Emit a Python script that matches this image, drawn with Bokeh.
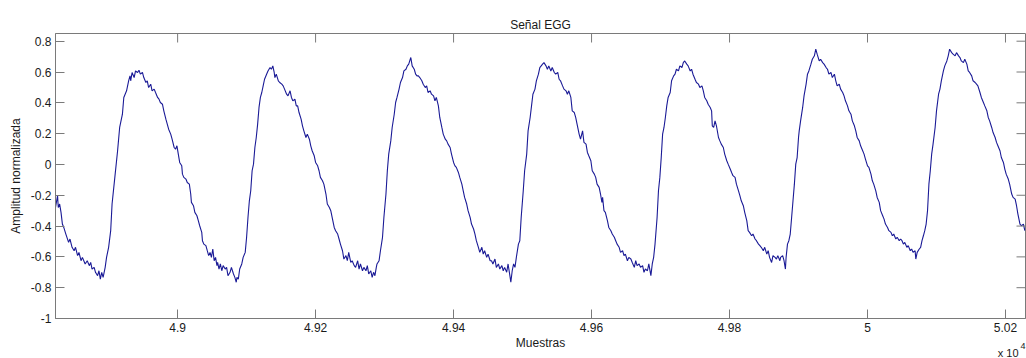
import math
from bokeh.plotting import figure
from bokeh.models import Range1d, FixedTicker, Label
from bokeh.embed import file_html
from bokeh.resources import INLINE

# EGG trace, sample index vs. normalised amplitude, split into consecutive stretches
seg1_n = [48823, 48826, 48827, 48829, 48831, 48833, 48835, 48838, 48842, 48844,
          48847, 48850, 48852, 48855, 48857, 48860, 48862, 48866, 48869, 48872,
          48874, 48876, 48879, 48881, 48884, 48886, 48888, 48890, 48892, 48895,
          48897, 48900, 48903, 48905, 48909, 48913, 48916, 48920, 48922, 48926,
          48929, 48931, 48932, 48934, 48937, 48939, 48942, 48944, 48946, 48949,
          48951, 48954, 48956, 48958, 48961, 48963, 48966, 48968, 48971, 48973,
          48975, 48978, 48980, 48983, 48985, 48987, 48990, 48992, 48995, 48997]
seg1_a = [-0.279, -0.203, -0.279, -0.257, -0.311, -0.387, -0.409, -0.452, -0.506, -0.484,
          -0.538, -0.560, -0.538, -0.592, -0.571, -0.625, -0.603, -0.646, -0.625, -0.657,
          -0.636, -0.679, -0.668, -0.700, -0.722, -0.690, -0.744, -0.700, -0.733, -0.668,
          -0.603, -0.538, -0.430, -0.257, -0.084, 0.089, 0.240, 0.326, 0.435, 0.478,
          0.543, 0.575, 0.543, 0.597, 0.564, 0.607, 0.597, 0.612, 0.586, 0.597,
          0.564, 0.532, 0.543, 0.499, 0.521, 0.478, 0.489, 0.467, 0.435, 0.424,
          0.402, 0.391, 0.348, 0.294, 0.262, 0.229, 0.197, 0.164, 0.110, 0.099]

seg2_n = [48999, 49001, 49003, 49006, 49007, 49009, 49012, 49014, 49017, 49019,
          49020, 49023, 49025, 49028, 49030, 49032, 49035, 49036, 49038, 49041,
          49043, 49045, 49047, 49049, 49051, 49053, 49055, 49057, 49058, 49060,
          49062, 49064, 49066, 49069, 49071, 49073, 49076, 49078, 49081, 49083,
          49085, 49086, 49088, 49090, 49093, 49095, 49098, 49100, 49102, 49104,
          49106, 49108, 49110, 49112, 49114, 49116, 49118, 49120, 49122, 49124,
          49126, 49129, 49131, 49134, 49136, 49138, 49140, 49141, 49143, 49146,
          49148, 49151, 49153, 49155, 49158, 49160, 49163, 49165, 49167, 49170,
          49172]
seg2_a = [0.121, 0.067, 0.013, -0.009, -0.063, -0.084, -0.095, -0.117, -0.128, -0.192,
          -0.246, -0.268, -0.311, -0.333, -0.365, -0.398, -0.441, -0.495, -0.517, -0.527,
          -0.560, -0.592, -0.571, -0.603, -0.549, -0.625, -0.603, -0.657, -0.636, -0.679,
          -0.646, -0.690, -0.657, -0.679, -0.668, -0.722, -0.700, -0.668, -0.711, -0.733,
          -0.765, -0.733, -0.744, -0.679, -0.646, -0.603, -0.571, -0.473, -0.344, -0.236,
          -0.171, -0.041, 0.002, 0.110, 0.175, 0.262, 0.370, 0.435, 0.467, 0.510,
          0.553, 0.586, 0.607, 0.629, 0.618, 0.640, 0.597, 0.564, 0.586, 0.543,
          0.532, 0.521, 0.510, 0.489, 0.456, 0.445, 0.478, 0.435, 0.413, 0.424,
          0.380]

seg3_n = [49174, 49176, 49179, 49181, 49183, 49186, 49188, 49191, 49193, 49195,
          49198, 49200, 49203, 49205, 49207, 49210, 49212, 49215, 49217, 49220,
          49222, 49224, 49227, 49229, 49232, 49234, 49236, 49239, 49241, 49244,
          49246, 49248, 49251, 49253, 49256, 49258, 49261, 49263, 49265, 49268,
          49270, 49273, 49275, 49277, 49280, 49282, 49284, 49286, 49288, 49289,
          49292, 49294, 49297, 49299, 49302, 49304, 49306, 49309, 49311, 49314,
          49316, 49318, 49321, 49323, 49326, 49328, 49331, 49333, 49335, 49338,
          49340, 49343, 49345, 49347]
seg3_a = [0.380, 0.337, 0.294, 0.251, 0.218, 0.175, 0.197, 0.164, 0.121, 0.089,
          0.056, 0.013, -0.009, -0.041, -0.084, -0.106, -0.128, -0.192, -0.257, -0.279,
          -0.300, -0.344, -0.409, -0.430, -0.452, -0.484, -0.517, -0.560, -0.614, -0.592,
          -0.625, -0.571, -0.636, -0.625, -0.657, -0.668, -0.625, -0.679, -0.646, -0.690,
          -0.668, -0.690, -0.657, -0.711, -0.690, -0.733, -0.700, -0.722, -0.668, -0.646,
          -0.625, -0.560, -0.473, -0.344, -0.192, -0.041, 0.067, 0.153, 0.240, 0.326,
          0.402, 0.435, 0.489, 0.532, 0.564, 0.607, 0.618, 0.640, 0.651, 0.694,
          0.640, 0.618, 0.586, 0.575]

seg4_n = [49349, 49351, 49354, 49356, 49359, 49361, 49363, 49366, 49368, 49371,
          49373, 49375, 49378, 49380, 49383, 49385, 49388, 49390, 49392, 49395,
          49397, 49400, 49402, 49404, 49407, 49409, 49412, 49414, 49416, 49419,
          49421, 49424, 49426, 49429, 49431, 49433, 49436, 49438, 49441, 49443,
          49445, 49448, 49450, 49453, 49455, 49457, 49460, 49462, 49465, 49467,
          49470, 49472, 49474, 49477, 49479, 49482, 49483, 49485, 49487, 49489,
          49491, 49494, 49496, 49498, 49501, 49503, 49506, 49508, 49511, 49513,
          49515, 49518, 49520, 49523, 49525]
seg4_a = [0.575, 0.564, 0.543, 0.521, 0.499, 0.510, 0.467, 0.478, 0.456, 0.445,
          0.413, 0.435, 0.380, 0.305, 0.240, 0.197, 0.164, 0.153, 0.132, 0.110,
          0.067, 0.013, -0.009, -0.019, -0.052, -0.084, -0.128, -0.171, -0.214, -0.257,
          -0.300, -0.344, -0.387, -0.419, -0.452, -0.495, -0.538, -0.571, -0.538, -0.582,
          -0.560, -0.603, -0.582, -0.625, -0.625, -0.646, -0.614, -0.668, -0.646, -0.679,
          -0.657, -0.690, -0.668, -0.700, -0.646, -0.733, -0.765, -0.690, -0.646, -0.668,
          -0.603, -0.517, -0.495, -0.344, -0.171, -0.041, 0.067, 0.218, 0.305, 0.380,
          0.456, 0.489, 0.543, 0.586, 0.629]

seg5_n = [49529, 49531, 49534, 49536, 49538, 49541, 49543, 49546, 49548, 49551,
          49553, 49555, 49558, 49560, 49563, 49565, 49567, 49570, 49572, 49575,
          49577, 49579, 49582, 49584, 49587, 49589, 49592, 49594, 49596, 49599,
          49601, 49604, 49606, 49608, 49611, 49613, 49615, 49616, 49618, 49620,
          49623, 49625, 49628, 49630, 49633, 49635, 49637, 49640, 49642, 49645,
          49647, 49649, 49652, 49654, 49657, 49659, 49662, 49664, 49666, 49669,
          49671, 49674, 49676, 49678, 49681, 49683, 49686, 49688, 49690, 49692,
          49695, 49697]
seg5_a = [0.651, 0.661, 0.640, 0.618, 0.640, 0.607, 0.629, 0.597, 0.586, 0.597,
          0.553, 0.543, 0.510, 0.489, 0.478, 0.456, 0.478, 0.435, 0.348, 0.337,
          0.305, 0.262, 0.197, 0.164, 0.218, 0.143, 0.132, 0.078, 0.056, 0.024,
          -0.041, -0.063, -0.084, -0.128, -0.149, -0.192, -0.246, -0.214, -0.300, -0.311,
          -0.365, -0.409, -0.430, -0.452, -0.473, -0.495, -0.517, -0.538, -0.571, -0.560,
          -0.592, -0.582, -0.625, -0.603, -0.614, -0.636, -0.668, -0.625, -0.657, -0.646,
          -0.668, -0.657, -0.700, -0.679, -0.690, -0.646, -0.722, -0.646, -0.603, -0.517,
          -0.344, -0.171]

seg6_n = [49699, 49701, 49703, 49705, 49707, 49709, 49711, 49714, 49716, 49719,
          49721, 49723, 49726, 49728, 49731, 49733, 49735, 49738, 49740, 49743,
          49745, 49747, 49750, 49752, 49755, 49757, 49760, 49762, 49764, 49767,
          49769, 49772, 49774, 49775, 49777, 49779, 49781, 49784, 49786, 49788,
          49791, 49793, 49796, 49798, 49801, 49803, 49805, 49808, 49810, 49813,
          49815, 49817, 49820, 49822, 49825, 49827, 49829, 49832, 49834, 49837,
          49839, 49842, 49844, 49846, 49849, 49851, 49854, 49856, 49858, 49861,
          49863, 49866, 49868, 49870, 49873]
seg6_a = [-0.084, 0.045, 0.197, 0.240, 0.305, 0.380, 0.435, 0.467, 0.543, 0.575,
          0.586, 0.618, 0.607, 0.640, 0.629, 0.661, 0.672, 0.651, 0.640, 0.607,
          0.618, 0.586, 0.553, 0.532, 0.521, 0.499, 0.510, 0.478, 0.435, 0.413,
          0.391, 0.370, 0.348, 0.251, 0.240, 0.283, 0.251, 0.175, 0.153, 0.132,
          0.110, 0.067, 0.024, 0.002, -0.030, -0.052, -0.073, -0.084, -0.128, -0.171,
          -0.203, -0.236, -0.268, -0.311, -0.365, -0.430, -0.441, -0.463, -0.452, -0.484,
          -0.495, -0.517, -0.527, -0.538, -0.560, -0.538, -0.582, -0.560, -0.603, -0.636,
          -0.592, -0.603, -0.614, -0.592, -0.625]

seg7_n = [49874, 49877, 49879, 49881, 49882, 49884, 49886, 49888, 49890, 49892,
          49894, 49896, 49898, 49900, 49901, 49903, 49906, 49908, 49911, 49913,
          49915, 49918, 49920, 49923, 49925, 49927, 49930, 49932, 49935, 49937,
          49940, 49942, 49944, 49947, 49949, 49952, 49954, 49956, 49959, 49961,
          49964, 49966, 49968, 49971, 49973, 49976, 49978, 49981, 49983, 49985,
          49988, 49990, 49993, 49995, 49997, 50000, 50002, 50005, 50007, 50009,
          50012, 50014, 50017, 50019, 50022, 50024, 50026, 50029, 50031, 50034,
          50036, 50038, 50041, 50043, 50046, 50048]
seg7_a = [-0.603, -0.592, -0.625, -0.679, -0.603, -0.517, -0.495, -0.452, -0.344, -0.236,
          -0.128, 0.002, 0.045, 0.175, 0.218, 0.283, 0.370, 0.445, 0.521, 0.586,
          0.607, 0.651, 0.683, 0.705, 0.748, 0.716, 0.672, 0.683, 0.661, 0.651,
          0.629, 0.618, 0.586, 0.597, 0.564, 0.586, 0.543, 0.510, 0.521, 0.489,
          0.467, 0.445, 0.413, 0.380, 0.348, 0.326, 0.283, 0.251, 0.218, 0.175,
          0.153, 0.121, 0.089, 0.067, 0.035, -0.009, -0.019, -0.063, -0.106, -0.128,
          -0.171, -0.214, -0.246, -0.300, -0.333, -0.355, -0.387, -0.409, -0.430, -0.441,
          -0.463, -0.452, -0.484, -0.473, -0.495, -0.484]

seg8_n = [50050, 50052, 50054, 50057, 50059, 50062, 50064, 50066, 50069, 50070,
          50072, 50075, 50077, 50079, 50081, 50083, 50085, 50087, 50089, 50091,
          50093, 50095, 50098, 50100, 50103, 50105, 50107, 50110, 50112, 50115,
          50117, 50119, 50122, 50124, 50127, 50129, 50132, 50134, 50136, 50139,
          50141, 50144, 50146, 50148, 50151, 50153, 50156, 50158, 50160, 50163,
          50165, 50168, 50170, 50173, 50175, 50177, 50180, 50182, 50185, 50187,
          50189, 50192, 50194, 50197, 50199, 50201, 50204, 50206, 50209, 50211,
          50214, 50216, 50218, 50221, 50223, 50226, 50228]
seg8_a = [-0.495, -0.517, -0.506, -0.538, -0.527, -0.560, -0.549, -0.571, -0.560, -0.614,
          -0.571, -0.549, -0.538, -0.495, -0.463, -0.430, -0.387, -0.300, -0.128, -0.041,
          0.067, 0.132, 0.240, 0.348, 0.456, 0.489, 0.543, 0.607, 0.640, 0.672,
          0.705, 0.748, 0.726, 0.716, 0.705, 0.726, 0.705, 0.694, 0.672, 0.661,
          0.683, 0.651, 0.607, 0.597, 0.575, 0.543, 0.532, 0.521, 0.510, 0.467,
          0.435, 0.402, 0.380, 0.348, 0.305, 0.283, 0.240, 0.207, 0.175, 0.143,
          0.121, 0.089, 0.045, 0.013, -0.030, -0.063, -0.095, -0.128, -0.192, -0.214,
          -0.225, -0.268, -0.322, -0.387, -0.398, -0.387, -0.430]

x_ticks = [49000, 49200, 49400, 49600, 49800, 50000, 50200]
x_tick_labels = ["4.9", "4.92", "4.94", "4.96", "4.98", "5", "5.02"]
y_ticks = [-1, -0.8, -0.6, -0.4, -0.2, 0, 0.2, 0.4, 0.6, 0.8]
y_tick_labels = ["-1", "-0.8", "-0.6", "-0.4", "-0.2", "0", "0.2", "0.4", "0.6", "0.8"]

x_start, x_end = 48823, 50229
y_start, y_end = -1, 0.85

samples = seg1_n + seg2_n + seg3_n + seg4_n + seg5_n + seg6_n + seg7_n + seg8_n
amplitude = seg1_a + seg2_a + seg3_a + seg4_a + seg5_a + seg6_a + seg7_a + seg8_a

FONT = "Liberation Sans"
FRAME = "#7a7a7a"
TEXT = "#1a1a1a"
TICK_LEN = 9

p = figure(width=1026, height=358, output_backend="svg", toolbar_location=None,
           x_range=Range1d(x_start, x_end), y_range=Range1d(y_start, y_end),
           min_border_left=54, min_border_right=1, min_border_top=33, min_border_bottom=40,
           title=None)
p.background_fill_color = "white"
p.border_fill_color = "white"
p.outline_line_color = FRAME
p.xgrid.visible = False
p.ygrid.visible = False

p.line(samples, amplitude, line_color="#1a1a96", line_width=1.1)

# inward tick marks along the top and right edges of the box
p.ray(x=x_ticks, y=[y_end] * len(x_ticks), length=TICK_LEN, length_units="screen",
      angle=-math.pi / 2, line_color=FRAME, line_width=1)
p.ray(x=[x_end] * len(y_ticks), y=y_ticks, length=TICK_LEN, length_units="screen",
      angle=math.pi, line_color=FRAME, line_width=1)

xax = p.below[0]
yax = p.left[0]
xax.ticker = FixedTicker(ticks=x_ticks)
xax.major_label_overrides = dict(zip(x_ticks, x_tick_labels))
yax.ticker = FixedTicker(ticks=y_ticks)
yax.major_label_overrides = dict(zip(y_ticks, y_tick_labels))

for ax in (xax, yax):
    ax.axis_line_color = FRAME
    ax.major_tick_line_color = FRAME
    ax.minor_tick_line_color = None
    ax.major_tick_in = TICK_LEN
    ax.major_tick_out = 0
    ax.major_label_text_font = FONT
    ax.major_label_text_font_size = "12px"
    ax.major_label_text_color = TEXT
    ax.major_label_standoff = 4
    ax.axis_label_text_font = FONT
    ax.axis_label_text_font_size = "12px"
    ax.axis_label_text_font_style = "normal"
    ax.axis_label_text_color = TEXT

xax.axis_label = "Muestras"
xax.axis_label_standoff = 1
yax.axis_label = "Amplitud normalizada"
yax.axis_label_standoff = 5

# title and axis exponent, anchored to the data box
title_lbl = Label(x=(x_start + x_end) / 2, y=y_end, text="Señal EGG",
                  y_offset=9, text_align="center", text_baseline="alphabetic",
                  text_font=FONT, text_font_size="12px", text_color=TEXT)
exp_base = Label(x=x_end, y=y_start, text="x 10", x_offset=-7, y_offset=-34,
                 text_align="right", text_baseline="alphabetic",
                 text_font=FONT, text_font_size="11px", text_color=TEXT)
exp_power = Label(x=x_end, y=y_start, text="4", x_offset=-5, y_offset=-27,
                  text_align="left", text_baseline="alphabetic",
                  text_font=FONT, text_font_size="9px", text_color=TEXT)
p.add_layout(title_lbl, "above")
p.add_layout(exp_base, "above")
p.add_layout(exp_power, "left")

open("out.html", "w").write(file_html(p, INLINE))
